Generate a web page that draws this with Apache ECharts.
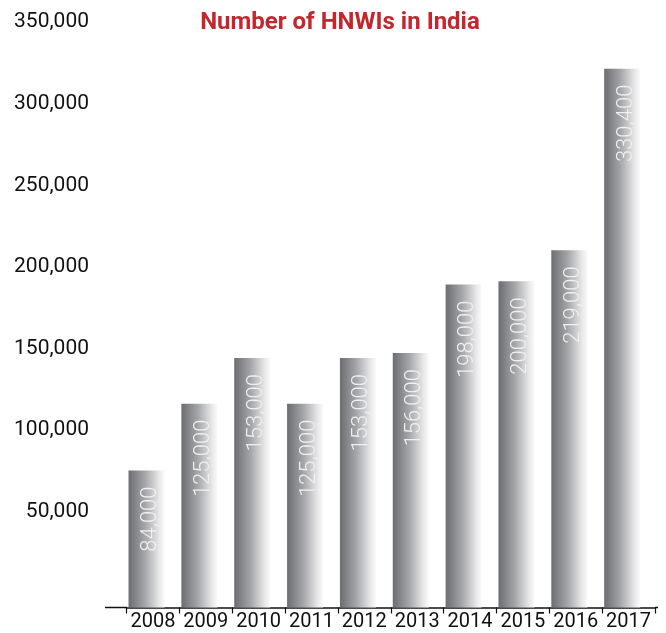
<!DOCTYPE html>
<html lang="en">
<head>
    <meta charset="UTF-8">
    <title>Number of HNWIs in India</title>
    <script src="https://cdn.jsdelivr.net/npm/echarts@6/dist/echarts.min.js"></script>
    <style>
        html, body { margin: 0; padding: 0; background: #fff; }
    </style>
</head>
<body>
<div id="chart" style="width: 666px;height:633px;"></div>

<script>
    // 数据
    var years = ['2008', '2009', '2010', '2011', '2012', '2013', '2014', '2015', '2016', '2017'];
    var hnwis = [84000, 125000, 153000, 125000, 153000, 156000, 198000, 200000, 219000, 330400];
    var yMax = 350000;
    var yStep = 50000;

    function fmt(v) {
        return String(v).replace(/\B(?=(\d{3})+(?!\d))/g, ',');
    }

    var myChart = echarts.init(document.getElementById('chart'));
    myChart.setOption({
        animation: false,
        title: {
            text: 'Number of HNWIs in India',
            left: 335,
            textAlign: 'center',
            top: 6,
            textStyle: {
                color: '#c1272d',
                fontFamily: 'Roboto',
                fontWeight: 'bold',
                fontSize: 24
            }
        },
        grid: {
            left: 126.5,
            right: 11,
            top: 36.7,
            bottom: 25.5
        },
        xAxis: {
            type: 'category',
            data: years,
            axisLine: {
                show: true,
                lineStyle: { color: '#111', width: 1.5 }
            },
            axisTick: {
                show: true,
                alignWithLabel: false,
                length: 6,
                lineStyle: { color: '#111', width: 1.2 }
            },
            axisLabel: {
                interval: 0,
                color: '#111',
                fontFamily: 'Roboto',
                fontSize: 20,
                margin: 4
            }
        },
        yAxis: {
            type: 'value',
            min: 0,
            max: yMax,
            interval: yStep,
            splitLine: { show: false },
            axisLine: { show: false },
            axisTick: { show: false },
            axisLabel: {
                color: '#111',
                fontFamily: 'Roboto',
                fontSize: 21,
                margin: 37.5,
                verticalAlign: 'middle',
                lineHeight: 29,
                // 第二行空白, 让标签整体上移
                formatter: function (v) {
                    return v === 0 ? '' : fmt(v) + '\n ';
                }
            }
        },
        series: [{
            name: 'HNWIs',
            type: 'bar',
            barWidth: 36,
            barGap: '0%',
            data: hnwis,
            itemStyle: {
                color: {
                    type: 'linear',
                    x: 0, y: 0, x2: 1, y2: 0,
                    colorStops: [
                        { offset: 0, color: '#6c6d71' },
                        { offset: 0.45, color: '#a4a5a8' },
                        { offset: 0.85, color: '#e8e8e9' },
                        { offset: 1, color: '#fafafa' }
                    ]
                }
            },
            label: {
                show: true,
                position: 'insideTop',
                rotate: 90,
                align: 'right',
                verticalAlign: 'middle',
                distance: 16,
                offset: [0, 4],
                color: '#f0f0f0',
                fontFamily: 'Roboto',
                fontWeight: 300,
                fontSize: 22,
                formatter: function (p) {
                    return fmt(p.value);
                }
            }
        }, {
            // 占位, 让柱子偏左
            name: 'pad',
            type: 'bar',
            barWidth: 12.8,
            data: years.map(function () { return '-'; })
        }],
        graphic: [{
            type: 'line',
            shape: { x1: 105, y1: 607.5, x2: 127, y2: 607.5 },
            style: { stroke: '#111', lineWidth: 1.5 }
        }, {
            type: 'line',
            shape: { x1: 655, y1: 607.5, x2: 658, y2: 607.5 },
            style: { stroke: '#111', lineWidth: 1.5 }
        }]
    });
</script>
</body>
</html>
